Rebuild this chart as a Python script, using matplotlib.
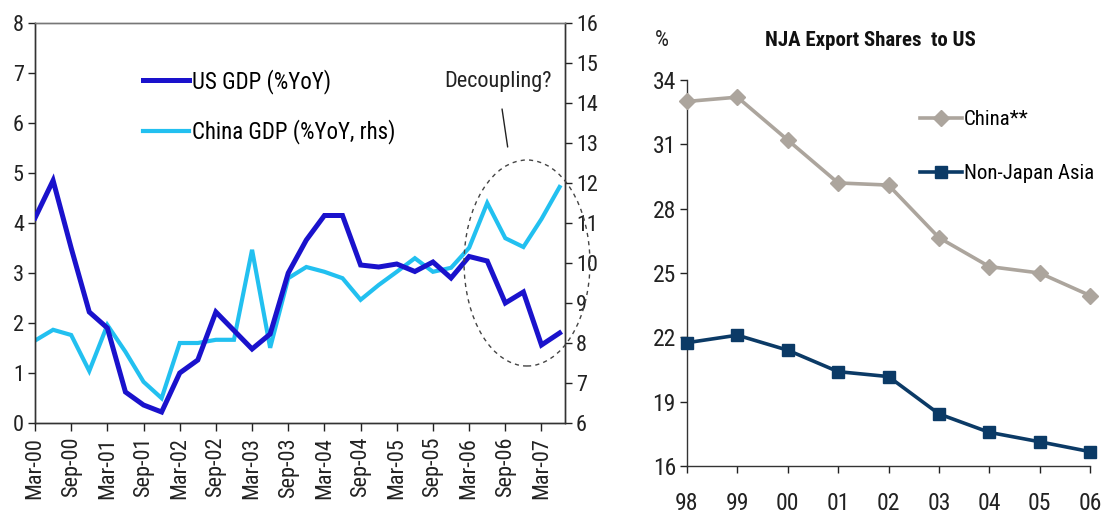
import matplotlib
matplotlib.use("Agg")
import matplotlib.pyplot as plt
from matplotlib.patches import Ellipse
import numpy as np

plt.rcParams['font.family'] = ['Liberation Sans Narrow', 'Arial Narrow', 'Roboto Condensed',
                               'Archivo Narrow', 'Liberation Sans', 'DejaVu Sans']

# ---------------- data ----------------
quarters = ["Mar-00", "Jun-00", "Sep-00", "Dec-00", "Mar-01", "Jun-01", "Sep-01", "Dec-01",
            "Mar-02", "Jun-02", "Sep-02", "Dec-02", "Mar-03", "Jun-03", "Sep-03", "Dec-03",
            "Mar-04", "Jun-04", "Sep-04", "Dec-04", "Mar-05", "Jun-05", "Sep-05", "Dec-05",
            "Mar-06", "Jun-06", "Sep-06", "Dec-06", "Mar-07", "Jun-07"]
us_gdp = [4.1, 4.85, 3.5, 2.22, 1.9, 0.62, 0.36, 0.22, 1.0, 1.26, 2.22, 1.85, 1.48, 1.78,
          3.0, 3.66, 4.15, 4.15, 3.16, 3.12, 3.18, 3.03, 3.22, 2.9, 3.33, 3.24, 2.4, 2.62,
          1.56, 1.8]
china_gdp = [8.06, 8.33, 8.2, 7.3, 8.45, 7.78, 7.03, 6.62, 8.0, 8.0, 8.08, 8.08, 10.33, 7.88,
             9.62, 9.9, 9.78, 9.62, 9.08, 9.45, 9.78, 10.12, 9.78, 9.88, 10.38, 11.5, 10.62,
             10.4, 11.1, 11.9]

years = ["98", "99", "00", "01", "02", "03", "04", "05", "06"]
china_share = [33.0, 33.2, 31.2, 29.2, 29.1, 26.65, 25.3, 25.0, 23.95]
nja_share = [21.75, 22.1, 21.4, 20.4, 20.17, 18.43, 17.57, 17.13, 16.67]

US_COL = "#1a12cc"
CN_COL = "#22c0f0"
GRAY_COL = "#aca59d"
NAVY_COL = "#0b3a66"

fig = plt.figure(figsize=(11.04, 5.28), dpi=100)

# ---------------- left chart ----------------
ax = fig.add_axes([35 / 1104, 1 - 423 / 528, 530 / 1104, 400 / 528])
ax2 = ax.twinx()
x = np.arange(len(quarters))
l1, = ax.plot(x, us_gdp, color=US_COL, lw=3.6, solid_joinstyle='miter', label="US GDP (%YoY)", zorder=3)
l2, = ax2.plot(x, china_gdp, color=CN_COL, lw=3.0, solid_joinstyle='miter', label="China GDP (%YoY, rhs)", zorder=2)
ax.set_zorder(ax2.get_zorder() + 1)
ax.patch.set_visible(False)

ax.set_xlim(0, 29.3)
ax.set_ylim(0, 8)
ax2.set_ylim(6, 16)
ax.set_yticks(range(0, 9))
ax2.set_yticks(range(6, 17))
ax.set_xticks(x[::2])
ax.set_xticklabels(quarters[::2], rotation=90, fontsize=16)
ax.tick_params(axis='y', labelsize=16, direction='out', length=5, width=1, colors='#222222', pad=3)
ax2.tick_params(axis='y', labelsize=16, direction='out', length=5, width=1, colors='#222222', pad=3)
ax.tick_params(axis='x', direction='out', length=6, width=1, colors='#222222', pad=4)
for a in (ax, ax2):
    for s in a.spines.values():
        s.set_color('#333333')
        s.set_linewidth(1)
    a.spines['top'].set_color('#777777')

ell = Ellipse((27.2, 3.2), 6.96, 4.12, fill=False, ls=(0, (3, 3)), lw=1.0,
              edgecolor='#444444', clip_on=False, zorder=5)
ax.add_patch(ell)
ax.annotate("Decoupling?", xy=(26.13, 5.52), xytext=(25.6, 6.82),
            ha='center', va='center', fontsize=16, color='#222222',
            arrowprops=dict(arrowstyle='-', color='#222222', lw=1.0, shrinkA=10, shrinkB=0))

ax.legend([l1, l2], [l1.get_label(), l2.get_label()], loc='upper left',
          bbox_to_anchor=(0.204, 0.885), frameon=False, fontsize=16.5,
          handlelength=2.0, handletextpad=0.15, labelspacing=1.1, borderpad=0,
          borderaxespad=0)

# ---------------- right chart ----------------
bx = fig.add_axes([687 / 1104, 1 - 466 / 528, 403 / 1104, 386 / 528])
xx = np.arange(len(years))
bx.plot(xx, china_share, color=GRAY_COL, lw=2.6, marker='D', markersize=8,
        label="China**", clip_on=False, zorder=3)
bx.plot(xx, nja_share, color=NAVY_COL, lw=2.6, marker='s', markersize=9,
        label="Non-Japan Asia", clip_on=False, zorder=3)
bx.set_xlim(0, 8)
bx.set_ylim(16, 34)
bx.set_yticks(range(16, 35, 3))
bx.set_xticks(xx)
bx.set_xticklabels(years)
bx.tick_params(axis='y', labelsize=17, direction='out', length=5, width=1, colors='#222222', pad=3)
bx.tick_params(axis='x', labelsize=17, direction='out', length=5, width=1, colors='#222222', pad=14)
for s in ('top', 'right'):
    bx.spines[s].set_visible(False)
for s in ('left', 'bottom'):
    bx.spines[s].set_color('#333333')
    bx.spines[s].set_linewidth(1)
bx.legend(loc='upper left', bbox_to_anchor=(0.578, 0.922), frameon=False, fontsize=15,
          handlelength=2.0, handletextpad=0.1, labelspacing=1.68, borderpad=0, borderaxespad=0)

fig.text(662 / 1104, 1 - 40 / 528, "%", fontsize=16, ha='center', va='center', color='#222222')
fig.text(870 / 1104, 1 - 40 / 528, "NJA Export Shares  to US", fontsize=15, fontweight='bold',
         ha='center', va='center', color='#111111')

fig.savefig("out.png", dpi=100)
